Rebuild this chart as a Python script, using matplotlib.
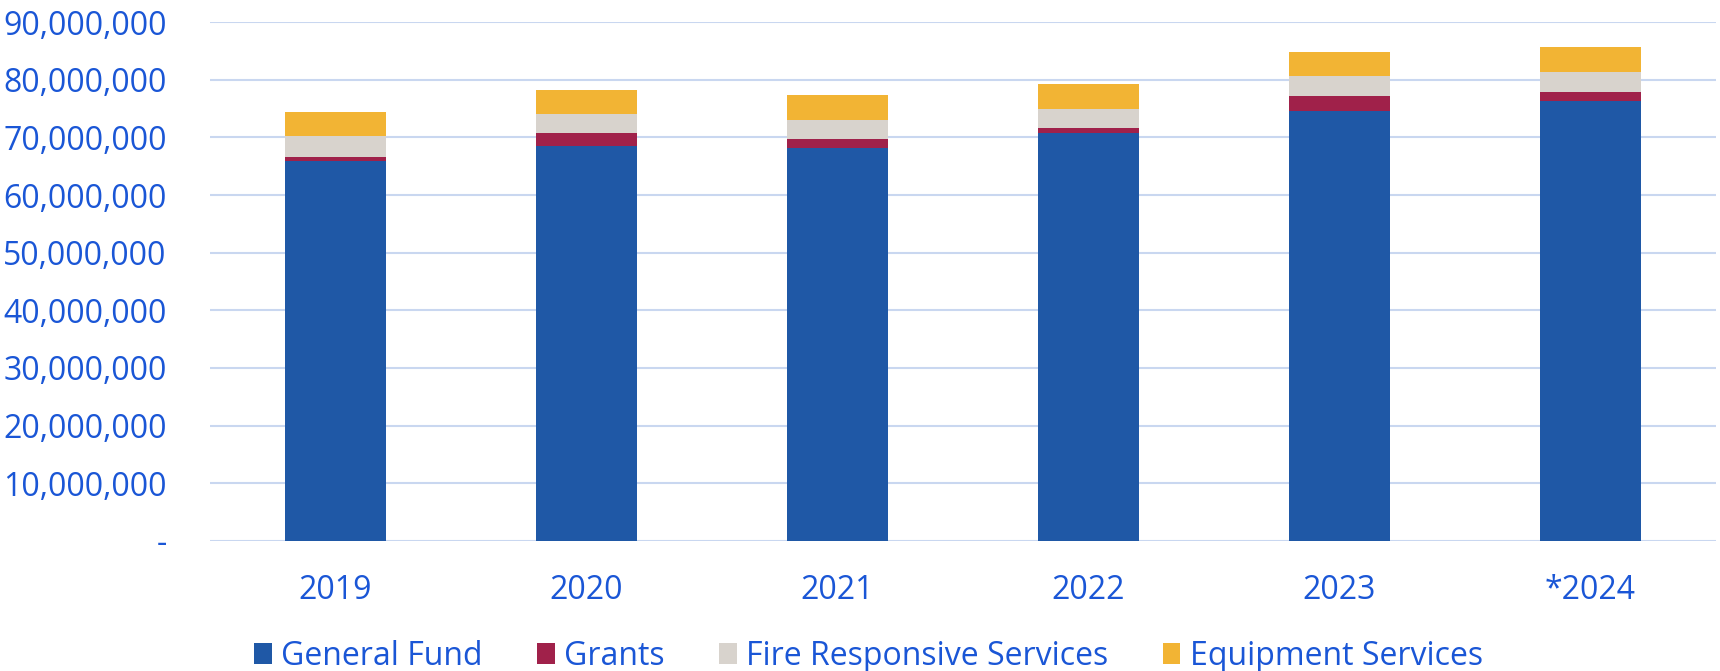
import numpy as np
import matplotlib.pyplot as plt
from matplotlib.ticker import FuncFormatter

plt.rcParams['font.family'] = ['Open Sans', 'DejaVu Sans']

years = ['2019', '2020', '2021', '2022', '2023', '*2024']
general_fund = [65.94, 68.54, 68.09, 70.69, 74.51, 76.25]   # millions
grants = [0.59, 2.20, 1.67, 0.92, 2.71, 1.66]
fire_services = [3.69, 3.30, 3.29, 3.30, 3.36, 3.37]
equipment = [4.11, 4.22, 4.24, 4.29, 4.22, 4.39]

series = [
    ('General Fund', general_fund, '#1F58A6'),
    ('Grants', grants, '#A0214A'),
    ('Fire Responsive Services', fire_services, '#D8D3CD'),
    ('Equipment Services', equipment, '#F2B434'),
]

text_color = '#1A56D6'

fig = plt.figure(figsize=(17.2, 6.71), dpi=100)
ax = fig.add_axes([0.122, 0.194, 0.8757, 0.773])

x = np.arange(len(years))
bottom = np.zeros(len(years))
for name, vals, col in series:
    v = np.array(vals) * 1e6
    ax.bar(x, v, 0.4, bottom=bottom, color=col, label=name, zorder=3)
    bottom += v

ax.set_ylim(0, 90e6)
ax.set_xlim(-0.5, len(years) - 0.5)
ax.set_yticks(np.arange(0, 90e6 + 1, 10e6))
ax.yaxis.set_major_formatter(FuncFormatter(lambda v, p: '-' if v == 0 else f'{v:,.0f}'))
ax.set_xticks(x)
ax.set_xticklabels(years)
ax.grid(axis='y', color='#C9D7F0', linewidth=1.5, zorder=0)
for s in ax.spines.values():
    s.set_visible(False)
ax.tick_params(axis='both', length=0, labelsize=23, labelcolor=text_color)
ax.tick_params(axis='y', pad=31)
ax.tick_params(axis='x', pad=24)

fig.legend(loc='center', bbox_to_anchor=(0.505, 0.022), ncol=4, frameon=False,
           fontsize=23, labelcolor=text_color, handlelength=0.55, handleheight=0.65,
           handletextpad=0.3, columnspacing=1.7)

fig.savefig('out.png', dpi=100)
